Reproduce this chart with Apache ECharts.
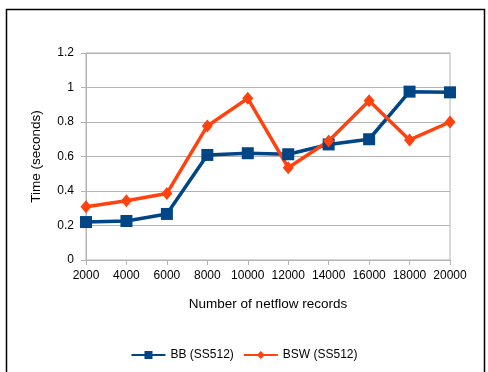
<!DOCTYPE html>
<html><head><meta charset="utf-8">
<script src="https://cdn.jsdelivr.net/npm/echarts@6/dist/echarts.min.js"></script>
<style>html,body{margin:0;padding:0;background:#fff}#c{width:488px;height:372px}</style>
</head><body><div id="c"></div>
<script>
var categories = ['2000','4000','6000','8000','10000','12000','14000','16000','18000','20000'];
var bbValues = [0.22, 0.226, 0.267, 0.609, 0.619, 0.613, 0.67, 0.70, 0.976, 0.972];
var bswValues = [0.309, 0.344, 0.386, 0.777, 0.937, 0.535, 0.69, 0.923, 0.696, 0.80];
var seriesNames = ['BB (SS512)', 'BSW (SS512)'];
var font = 'Liberation Sans, Arial, sans-serif';
var chart = echarts.init(document.getElementById('c'), null, {renderer:'canvas'});
chart.setOption({
  animation: false,
  textStyle: {fontFamily: font},
  graphic: [{type:'rect', shape:{x:6.5, y:9.5, width:478, height:380}, style:{fill:'none', stroke:'#000', lineWidth:1.5}, z:-1}],
  grid: {left:86, right:38, top:53, bottom:112, show:true, borderColor:'#b3b3b3', borderWidth:1},
  legend: {
    bottom: 6, left:'center', itemWidth:34, itemHeight:10, itemGap:9,
    textStyle:{fontFamily:font, fontSize:12, color:'#000'},
    data: seriesNames
  },
  xAxis: {
    type:'category', data:categories, boundaryGap:false,
    name:'Number of netflow records', nameLocation:'middle', nameGap:37,
    nameTextStyle:{fontFamily:font, fontSize:13.5, color:'#000'},
    axisLine:{lineStyle:{color:'#b3b3b3'}},
    axisTick:{show:true, length:5, lineStyle:{color:'#b3b3b3'}},
    axisLabel:{fontFamily:font, fontSize:12, color:'#000', margin:10, interval:0},
    splitLine:{show:false}
  },
  yAxis: {
    type:'value', min:0, max:1.2, interval:0.2,
    name:'Time (seconds)', nameLocation:'middle', nameGap:43,
    nameTextStyle:{fontFamily:font, fontSize:13.5, color:'#000'},
    axisLine:{show:true, lineStyle:{color:'#b3b3b3'}},
    axisTick:{show:true, length:5, lineStyle:{color:'#b3b3b3'}},
    axisLabel:{fontFamily:font, fontSize:12, color:'#000', margin:12, formatter:function(v){return String(Math.round(v*10)/10);}},
    splitLine:{show:true, lineStyle:{color:'#b3b3b3'}}
  },
  series: [
    {name:seriesNames[0], type:'line', data:bbValues, symbol:'rect', symbolSize:12,
     lineStyle:{color:'#004586', width:3.5}, itemStyle:{color:'#004586'}},
    {name:seriesNames[1], type:'line', data:bswValues, symbol:'diamond', symbolSize:[11,13],
     lineStyle:{color:'#ff420e', width:3.5}, itemStyle:{color:'#ff420e'}}
  ]
});
</script></body></html>
